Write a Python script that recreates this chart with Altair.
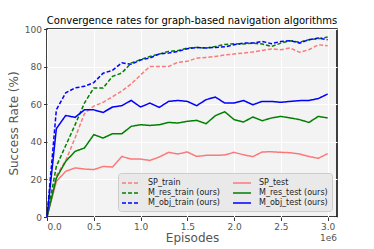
import altair as alt
import pandas as pd

episodes = [round(i * 0.1, 1) for i in range(31)]  # in units of 1e6

sp_train = [0, 22, 30, 42, 55, 59, 61, 64, 67, 70.8, 75.5, 80.1, 80.1, 80.1, 82.3, 82.8,
            84.5, 84.9, 85.4, 86.2, 86.7, 87.2, 87.8, 88.6, 89.4, 89.0, 89.9, 87.6, 89.0, 91.6, 91.1]
sp_test = [0, 18.9, 24.3, 26.1, 25.5, 25.2, 26.9, 26.6, 32.2, 30.8, 30.8, 30.1, 31.9, 34.4, 33.5, 34.6,
           32.2, 32.8, 32.8, 33.0, 34.4, 33.1, 32.1, 34.6, 34.7, 34.4, 34.2, 33.5, 32.2, 31.2, 33.7]
m_res_train = [0, 27, 38, 49, 60.6, 68.6, 68.6, 74.8, 76.6, 81.9, 83.7, 85.4, 86.7, 88.1, 88.5, 89.9,
               90.2, 89.9, 90.7, 91.8, 92.2, 92.0, 92.5, 92.0, 90.7, 92.5, 93.8, 93.0, 94.3, 94.8, 95.7]
m_res_test = [0, 20.7, 29.6, 34.9, 36.7, 43.8, 42.0, 44.3, 44.3, 48.2, 49.1, 48.7, 49.1, 50.3, 50.0, 50.9,
              51.4, 49.6, 53.9, 56.0, 51.8, 50.5, 53.2, 51.2, 52.7, 53.5, 52.7, 51.8, 50.3, 53.5, 52.7]
m_obj_train = [0, 57, 66, 68.7, 69.5, 71.5, 76.5, 78.0, 82.0, 81.2, 83.5, 84.6, 86.7, 87.2, 88.1, 89.5,
               90.2, 89.9, 90.2, 90.5, 91.6, 92.5, 92.5, 93.4, 92.2, 93.4, 93.8, 92.5, 94.3, 95.2, 94.3]
m_obj_test = [0, 47, 54, 53, 57, 57, 55.6, 58.5, 59.2, 62.0, 58.5, 60.6, 58.3, 61.5, 62.0, 61.5,
              59.2, 62.4, 63.8, 60.6, 60.6, 62.0, 59.7, 61.5, 61.5, 61.0, 61.5, 61.9, 62.0, 63.0, 65.4]

# legend fills column by column: train series in column 1, test series in column 2
series_names = ["SP_train", "M_res_train (ours)", "M_obj_train (ours)",
                "SP_test", "M_res_test (ours)", "M_obj_test (ours)"]
series_values = [sp_train, m_res_train, m_obj_train, sp_test, m_res_test, m_obj_test]
colors = ["#fa7a7a", "#008000", "#0000ff", "#fa7a7a", "#008000", "#0000ff"]
dashes = [[4, 2], [4, 2], [4, 2], [1, 0], [1, 0], [1, 0]]

rows = []
for name, vals in zip(series_names, series_values):
    for x, y in zip(episodes, vals):
        rows.append({"series": name, "episodes": x, "rate": y})
df = pd.DataFrame(rows)

legend = alt.Legend(
    title=None, orient="none", legendX=71, legendY=144, columns=2,
    symbolType="M-1.8,0H1.8", symbolSize=100, symbolStrokeWidth=1.5,
    symbolOffset=3, labelOffset=11, labelFontSize=8, labelColor="#222222",
    labelFont="DejaVu Sans", rowPadding=0, columnPadding=10, padding=4,
    fillColor="#e9e9e9", strokeColor="#cccccc", cornerRadius=3,
)

lines = alt.Chart(df).mark_line(strokeWidth=1.5).encode(
    x=alt.X("episodes:Q", scale=alt.Scale(domain=[0, 3.1], nice=False, zero=False),
            axis=alt.Axis(values=[0, 0.5, 1.0, 1.5, 2.0, 2.5, 3.0], format=".1f", title="Episodes")),
    y=alt.Y("rate:Q", scale=alt.Scale(domain=[0, 100], nice=False),
            axis=alt.Axis(values=[0, 20, 40, 60, 80, 100], title="Success Rate (%)")),
    color=alt.Color("series:N", scale=alt.Scale(domain=series_names, range=colors), legend=legend),
    strokeDash=alt.StrokeDash("series:N", scale=alt.Scale(domain=series_names, range=dashes), legend=legend),
)

exp_label = alt.Chart(pd.DataFrame({"t": ["1e6"]})).mark_text(
    align="right", baseline="alphabetic", fontSize=9, color="#555555", font="DejaVu Sans"
).encode(x=alt.value(290), y=alt.value(212), text="t:N")

chart = alt.layer(lines, exp_label).properties(
    width=290, height=188,
    title=alt.TitleParams("Convergence rates for graph-based navigation algorithms",
                          fontSize=10, fontWeight="normal", color="black", font="DejaVu Sans", offset=-1),
    autosize=alt.AutoSizeParams(type="none"),
    padding={"left": 39, "top": 21, "right": 29, "bottom": 30},
).configure_view(
    fill="#f3f3f3", stroke="black", strokeWidth=1.5
).configure_axis(
    grid=True, gridColor="white", gridWidth=1, domain=False,
    tickColor="#333333", tickSize=3.5, labelFontSize=9, labelColor="#555555", labelFont="DejaVu Sans",
    titleFontSize=12, titleColor="#555555", titleFontWeight="normal", titleFont="DejaVu Sans",
    labelPadding=2,
).configure_axisX(titlePadding=1).configure_axisY(titlePadding=4)

chart.save("out.html", embed_options={"renderer": "svg", "actions": False})
